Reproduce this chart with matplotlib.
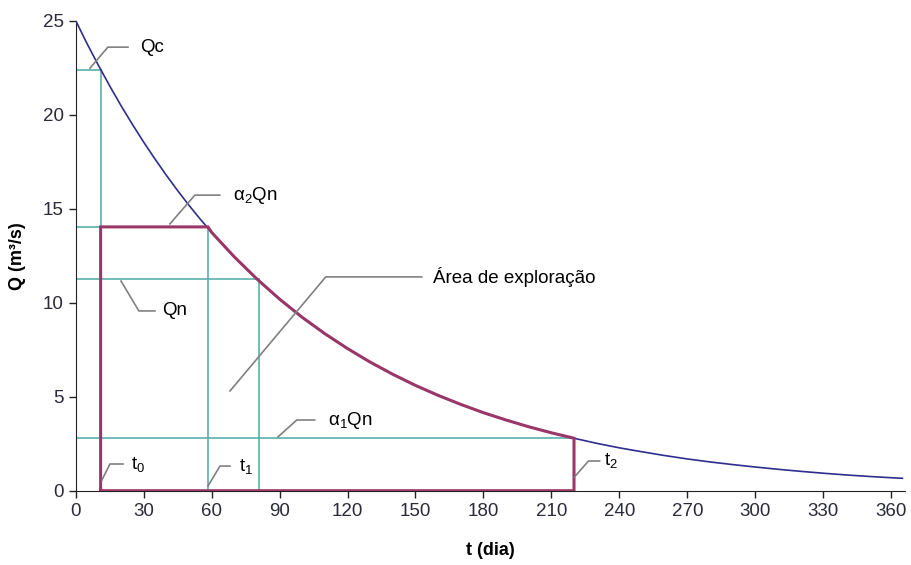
import numpy as np
import matplotlib
matplotlib.use('Agg')
import matplotlib.pyplot as plt

plt.rcParams['font.family'] = ['Liberation Sans', 'DejaVu Sans']
plt.rcParams['mathtext.fontset'] = 'custom'
plt.rcParams['mathtext.rm'] = 'Liberation Sans'
plt.rcParams['mathtext.it'] = 'Liberation Sans'
plt.rcParams['mathtext.bf'] = 'Liberation Sans:bold'

# curva de recessão (t em dias, Q em m3/s)
t_dias = [0, 5, 10, 15, 20, 25, 30, 35, 40, 45, 50, 55, 60, 70, 80, 90, 100,
          110, 120, 130, 140, 150, 160, 170, 180, 190, 200, 210, 220, 230, 240,
          250, 260, 270, 280, 290, 300, 310, 320, 330, 340, 350, 360, 365]
q_vazao = [25.0, 23.78, 22.63, 21.53, 20.48, 19.49, 18.54, 17.64, 16.78, 15.96,
           15.18, 14.44, 13.74, 12.44, 11.26, 10.19, 9.22, 8.35, 7.56, 6.84,
           6.19, 5.60, 5.07, 4.59, 4.15, 3.76, 3.40, 3.08, 2.79, 2.52, 2.28,
           2.07, 1.87, 1.69, 1.53, 1.39, 1.26, 1.14, 1.03, 0.93, 0.84, 0.76,
           0.69, 0.66]

# valores característicos
t0, t1, t_qn, t2 = 11, 58.4, 81, 220
Qc, a2Qn, Qn, a1Qn = 22.4, 14.03, 11.26, 2.79

t_arr = np.array(t_dias)
q_arr = np.array(q_vazao)

fig = plt.figure(figsize=(9.12, 5.65), dpi=100)
ax = fig.add_axes([0.083, 0.1315, 0.909, 0.832])

teal = '#4BAAA6'
roxo = '#9B3768'
azul = '#2E2E8E'
cinza = '#808080'

# linhas de referência
ax.plot([0, t0], [Qc, Qc], color=teal, lw=1.1, zorder=2)
ax.plot([t0, t0], [0, Qc], color=teal, lw=1.1, zorder=2)
ax.plot([0, t1], [a2Qn, a2Qn], color=teal, lw=1.1, zorder=2)
ax.plot([t1, t1], [0, a2Qn], color=teal, lw=1.1, zorder=2)
ax.plot([0, t_qn], [Qn, Qn], color=teal, lw=1.1, zorder=2)
ax.plot([t_qn, t_qn], [0, Qn], color=teal, lw=1.1, zorder=2)
ax.plot([0, t2], [a1Qn, a1Qn], color=teal, lw=1.1, zorder=2)

# curva
ax.plot(t_arr, q_arr, color=azul, lw=1.2, zorder=3)

# área de exploração
m = (t_arr > t1) & (t_arr < t2)
px = [t0, t0, t1] + list(t_arr[m]) + [t2, t2, t0]
py = [0, a2Qn, a2Qn] + list(q_arr[m]) + [a1Qn, 0, 0]
ax.plot(px, py, color=roxo, lw=2.2, zorder=4, solid_joinstyle='miter')

# chamadas
chamadas = [
    ('Qc', (6.3, 22.47), (14.2, 23.59), (23.1, 23.59), 28.4),
    ('α$_2$Qn', (41.6, 14.19), (52.6, 15.72), (63.6, 15.72), 69.4),
    ('Qn', (20.0, 11.15), (27.9, 9.56), (35.0, 9.56), 38.1),
    ('Área de exploração', (68.1, 5.30), (110.4, 11.37), (152.8, 11.37), 157.6),
    ('α$_1$Qn', (89.3, 2.86), (97.6, 3.76), (105.5, 3.76), 111.3),
    ('t$_0$', (11.6, 0.57), (15.1, 1.42), (20.9, 1.42), 24.6),
    ('t$_1$', (58.4, 0.25), (63.7, 1.31), (68.1, 1.31), 72.3),
    ('t$_2$', (220.2, 0.73), (226.4, 1.58), (231.3, 1.58), 233.3),
]
for txt, p0, p1, p2, xt in chamadas:
    ax.plot([p0[0], p1[0], p2[0]], [p0[1], p1[1], p2[1]], color=cinza, lw=1.2, zorder=5)
    ax.text(xt, p2[1], txt, fontsize=13.5, va='center', ha='left', color='black', zorder=6)

ax.set_xlim(0, 366)
ax.set_ylim(0, 25)
ax.set_xticks(range(0, 361, 30))
ax.set_yticks(range(0, 26, 5))
ax.spines['top'].set_visible(False)
ax.spines['right'].set_visible(False)
ax.spines['left'].set_color('#222222')
ax.spines['bottom'].set_color('#222222')
ax.tick_params(direction='out', length=5, width=1, labelsize=13.5, colors='#222222',
               labelcolor='#2a2a3a')
ax.set_xlabel('t (dia)', fontsize=13, fontweight='bold', labelpad=16)
ax.set_ylabel('Q (m³/s)', fontsize=13, fontweight='bold', labelpad=12)

fig.savefig('out.png', dpi=100)
